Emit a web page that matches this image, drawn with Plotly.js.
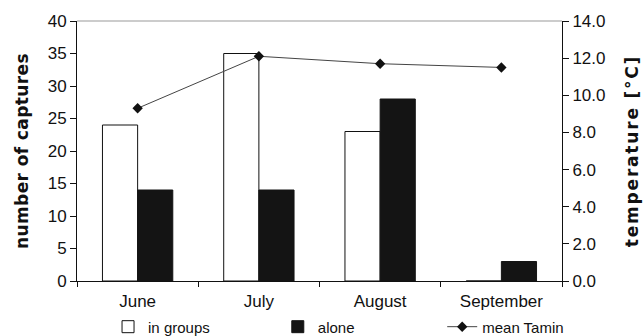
<!DOCTYPE html>
<html>
<head>
<meta charset="utf-8">
<script src="https://cdn.plot.ly/plotly-3.0.1.min.js"></script>
<style>
html,body{margin:0;padding:0;background:#fff;}
#chart{width:643px;height:336px;}
#chart .ytitle{letter-spacing:0.4px;}
#chart .y2title{letter-spacing:1.8px;}
</style>
</head>
<body>
<div id="chart"></div>
<script>
const months = ["June", "July", "August", "September"];
const inGroups = [24, 35, 23, 0];
const alone = [14, 14, 28, 3];
const meanTamin = [9.3, 12.1, 11.7, 11.5];

const font = "Liberation Sans, Arial, sans-serif";
const titleFont = "DejaVu Sans, Liberation Sans, sans-serif";

const traces = [
  {
    type: "bar", name: "in groups", x: months, y: inGroups,
    marker: {color: "#ffffff", line: {color: "#111111", width: 1}},
    legend: "legend"
  },
  {
    type: "bar", name: "alone", x: months, y: alone,
    marker: {color: "#141414", line: {color: "#141414", width: 1}},
    legend: "legend2"
  },
  {
    type: "scatter", mode: "lines+markers", name: "mean Tamin", x: months, y: meanTamin,
    yaxis: "y2",
    line: {color: "#444444", width: 1},
    marker: {symbol: "diamond", size: 8, color: "#111111"},
    legend: "legend3"
  }
];

const legBase = {orientation: "h", xref: "paper", yref: "container", yanchor: "middle", xanchor: "left",
  y: 0.027, bgcolor: "rgba(0,0,0,0)", borderwidth: 0, font: {family: font, size: 15, color: "#111"},
  tracegroupgap: 0};

const layout = {
  width: 643, height: 336,
  margin: {l: 77, r: 81, t: 21, b: 55},
  paper_bgcolor: "#fff", plot_bgcolor: "#fff",
  font: {family: font, size: 17, color: "#111"},
  barmode: "group", bargap: 0.42, bargroupgap: 0,
  xaxis: {
    type: "category", showline: true, linecolor: "#111", linewidth: 1,
    ticks: "outside", ticklen: 5, tickcolor: "#111", tickson: "boundaries",
    showgrid: false, zeroline: false, tickfont: {size: 17}, automargin: false,
    ticklabelstandoff: 5
  },
  yaxis: {
    range: [0, 40], dtick: 5, showline: true, linecolor: "#111", linewidth: 1,
    ticks: "outside", ticklen: 6, tickcolor: "#111", showgrid: false, zeroline: false,
    tickfont: {size: 17}, automargin: false,
    title: {text: "<b>number of captures</b>", font: {family: titleFont, size: 17}, standoff: 14}
  },
  yaxis2: {
    range: [0, 14], dtick: 2, tickformat: ".1f", overlaying: "y", side: "right",
    showline: true, linecolor: "#111", linewidth: 1,
    ticks: "outside", ticklen: 6, tickcolor: "#111", showgrid: false, zeroline: false,
    tickfont: {size: 17}, automargin: false,
    title: {text: "<b>temperature [°C]</b>", font: {family: titleFont, size: 17}, standoff: 21}
  },
  shapes: [
    {type: "line", xref: "paper", yref: "paper", x0: 0, x1: 1, y0: 1, y1: 1,
     line: {color: "#999", width: 1}}
  ],
  legend: Object.assign({}, legBase, {x: 0.064}),
  legend2: Object.assign({}, legBase, {x: 0.414}),
  legend3: Object.assign({}, legBase, {x: 0.753}),
  showlegend: true
};

Plotly.newPlot("chart", traces, layout, {displayModeBar: false, staticPlot: true});
</script>
</body>
</html>
